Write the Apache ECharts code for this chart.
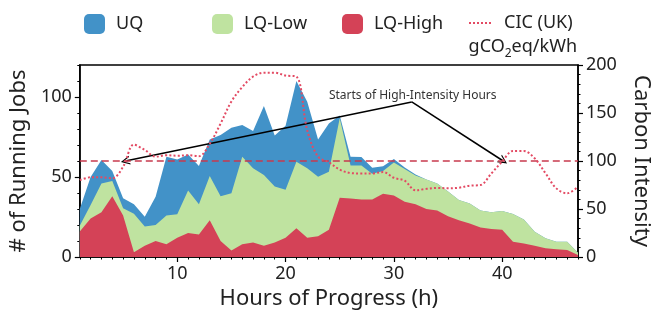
<!DOCTYPE html>
<html>
<head>
<meta charset="utf-8">
<script src="https://cdn.jsdelivr.net/npm/echarts@6/dist/echarts.min.js"></script>
<style>html,body{margin:0;padding:0;background:#fff}#c{width:665px;height:320px}</style>
</head>
<body>
<div id="c"></div>
<script>
// Hours of progress
var hours = [1,2,3,4,5,6,7,8,9,10,11,12,13,14,15,16,17,18,19,20,21,22,23,24,25,26,27,28,29,30,31,32,33,34,35,36,37,38,39,40,41,42,43,44,45,46,47];
// Running jobs (stacked): LQ-High at bottom, LQ-Low, UQ on top
var lqHigh = [16,24,28,38,26,3,7,10,8,12,15,14,23,10,4,8,9,7,9,12,18,12,13,17,37,36.5,36,36,39.5,38.5,34.6,33,30,29,25.5,23,21,18.5,17.5,17,9.6,8.5,7,5.4,4.8,4.4,1.3];
var lqLow  = [3.6,8.5,18,9.5,4.4,24,12,10,18,14.7,26.5,19,27.6,28,35.8,54.7,46.4,44.3,35,30,41.6,43.4,37.2,36.3,49.7,20.7,21.2,16,14.2,20.5,20.4,18,18.5,17,15.5,12.6,12.5,10.5,10.4,11.75,17.3,15,8.8,6.3,4.8,5.2,1.4];
var uq     = [10.4,17.5,14.6,6.3,6.3,6,6.2,17.7,36.7,34.3,22.5,23.9,22.9,38.3,41,19.8,23.4,43.1,32,40,50.4,41.6,23.3,30.2,1.8,5.5,5.3,3.8,3,2.3,1,0.5,0,0,0,0,0,0,0,0,0,0,0,0,0,0,0];
// Carbon intensity (gCO2eq/kWh)
var cic    = [80,83,83,82,94,117,111.5,104.5,106,105.5,106,105,118,139,162,177,188,192,192,189,188,132,104.5,98.6,91,87.5,87,87,88.5,82.5,79.5,69.5,71,72,71.5,72.2,74.3,75,87,99.5,110.4,110.4,102.8,87.2,71.5,66.3,73.3];
// Tick labels
var xMajor = [10,20,30,40];
var xMinor = [1,2,3,4,5,6,7,8,9,11,12,13,14,15,16,17,18,19,21,22,23,24,25,26,27,28,29,31,32,33,34,35,36,37,38,39,41,42,43,44,45,46,47];
var yLeftMajor = [0,50,100];
var yLeftMinor = [10,20,30,40,60,70,80,90,110,120];
var yRightMajor = [0,50,100,150,200];
var yRightMinor = [10,20,30,40,60,70,80,90,110,120,130,140,160,170,180,190];
// Annotation (data coordinates: hour, carbon intensity)
var threshold = 100;
var xRange = [1, 47];
var annotText = 'Starts of High-Intensity Hours';
var annotFrom = [31.65, 161.5];
var annotTextAt = [31.74, 168.5];
var annotTargets = [[5.2, 100], [40.1, 100]];

var FONT = 'Noto Sans';
var TXT = '#222';
// stacked tops (cumulative sums of the series below), painted back-to-front
function stackTop(arrs){ return hours.map(function(h,i){ var s=0; arrs.forEach(function(a){ s+=a[i]; }); return [h, s]; }); }

var C_UQ = '#4292c8', C_LOW = '#bfe3a0', C_HIGH = '#d44257', C_CIC = '#e34a63', C_TH = '#c83a4e';

var chart = echarts.init(document.getElementById('c'), null, {renderer:'canvas'});
var arrowSym = 'path://M0,10 L5,0 L10,10 L8.6,10 L5,2.8 L1.4,10 Z';
var dotIcon = 'path://M0,0h2v2h-2zM4,0h2v2h-2zM8,0h2v2h-2zM12,0h2v2h-2zM16,0h2v2h-2zM20,0h2v2h-2z';

function legendAt(name, left, opts){
  var o = {
    data:[name], left:left, top:9, itemWidth:21, itemHeight:20, itemGap:0,
    textStyle:{fontFamily:FONT, fontSize:18, color:TXT, padding:[0,0,0,6]},
    selectedMode:false
  };
  for (var k in opts) o[k] = opts[k];
  return o;
}

var option = {
  animation:false,
  backgroundColor:'#fff',
  textStyle:{fontFamily:FONT},
  legend:[
    legendAt('UQ', 79, {icon:'roundRect'}),
    legendAt('LQ-Low', 207, {icon:'roundRect'}),
    legendAt('LQ-High', 337, {icon:'roundRect'}),
    legendAt('CIC (UK)', 464, {icon:dotIcon, itemWidth:22, itemHeight:2, itemStyle:{color:C_CIC},
      textStyle:{fontFamily:FONT, fontSize:18, color:TXT, padding:[0,0,0,8]}})
  ],
  grid:{left:77, right:87, top:65, bottom:63, show:true, borderColor:'#000', borderWidth:1.5, backgroundColor:'transparent'},
  xAxis:[
    {type:'value', min:1, max:47, position:'bottom',
     axisLine:{show:true, lineStyle:{color:'#000', width:1.5}},
     axisTick:{show:true, customValues:xMajor, length:5, lineStyle:{color:'#000', width:1.2}},
     axisLabel:{show:true, customValues:xMajor, fontSize:18, color:TXT, margin:8, fontFamily:FONT},
     splitLine:{show:false},
     name:'Hours of Progress (h)', nameLocation:'middle', nameGap:30,
     nameTextStyle:{fontSize:22, color:TXT, fontFamily:FONT}},
    {type:'value', min:1, max:47, position:'bottom',
     axisLine:{show:false},
     axisTick:{show:true, customValues:xMinor, length:2.5, lineStyle:{color:'#000', width:1}},
     axisLabel:{show:false}, splitLine:{show:false}}
  ],
  yAxis:[
    {type:'value', min:0, max:120, position:'left',
     axisLine:{show:true, lineStyle:{color:'#000', width:1.5}},
     axisTick:{show:true, customValues:yLeftMajor, length:5, lineStyle:{color:'#000', width:1.2}},
     axisLabel:{show:true, customValues:yLeftMajor, fontSize:18, color:TXT, margin:8, fontFamily:FONT},
     splitLine:{show:false},
     name:'# of Running Jobs', nameLocation:'middle', nameGap:46, nameRotate:90,
     nameTextStyle:{fontSize:22, color:TXT, fontFamily:FONT}},
    {type:'value', min:0, max:120, position:'left',
     axisLine:{show:false},
     axisTick:{show:true, customValues:yLeftMinor, length:2.5, lineStyle:{color:'#000', width:1}},
     axisLabel:{show:false}, splitLine:{show:false}},
    {type:'value', min:0, max:200, position:'right',
     axisLine:{show:true, lineStyle:{color:'#000', width:1.5}},
     axisTick:{show:true, customValues:yRightMajor, length:5, lineStyle:{color:'#000', width:1.2}},
     axisLabel:{show:true, customValues:yRightMajor, fontSize:18, color:TXT, margin:8, fontFamily:FONT},
     splitLine:{show:false},
     name:'Carbon Intensity', nameLocation:'middle', nameGap:52, nameRotate:-90,
     nameTextStyle:{fontSize:22, color:TXT, fontFamily:FONT}},
    {type:'value', min:0, max:200, position:'right',
     axisLine:{show:false},
     axisTick:{show:true, customValues:yRightMinor, length:2.5, lineStyle:{color:'#000', width:1}},
     axisLabel:{show:false}, splitLine:{show:false}}
  ],
  graphic:[
    {type:'text', right:88, top:38, z:10,
     style:{text:'{a|gCO}{s|2}{a|eq/kWh}', fill:TXT,
       rich:{a:{fontSize:18, fontFamily:FONT, color:TXT, verticalAlign:'bottom'},
             s:{fontSize:12, fontFamily:FONT, color:TXT, verticalAlign:'bottom', padding:[0,0,-4,0]}}}}
  ],
  series:[
    {name:'UQ', type:'line', data:stackTop([lqHigh,lqLow,uq]), xAxisIndex:0, yAxisIndex:0,
     symbol:'none', showSymbol:false, lineStyle:{width:0}, itemStyle:{color:C_UQ},
     areaStyle:{color:C_UQ, opacity:1, origin:'start'}, z:2},
    {name:'LQ-Low', type:'line', data:stackTop([lqHigh,lqLow]), xAxisIndex:0, yAxisIndex:0,
     symbol:'none', showSymbol:false, lineStyle:{width:0}, itemStyle:{color:C_LOW},
     areaStyle:{color:C_LOW, opacity:1, origin:'start'}, z:3},
    {name:'LQ-High', type:'line', data:stackTop([lqHigh]), xAxisIndex:0, yAxisIndex:0,
     symbol:'none', showSymbol:false, lineStyle:{width:0}, itemStyle:{color:C_HIGH},
     areaStyle:{color:C_HIGH, opacity:1, origin:'start'}, z:4},
    {name:'threshold', type:'line', data:[[xRange[0], threshold],[xRange[1], threshold]],
     xAxisIndex:0, yAxisIndex:2, symbol:'none', showSymbol:false, silent:true, z:5,
     itemStyle:{color:C_TH}, lineStyle:{color:C_TH, width:1.4, type:[7,4]}},
    {name:'CIC (UK)', type:'line', data:hours.map(function(h,i){return [h, cic[i]];}), xAxisIndex:0, yAxisIndex:2,
     symbol:'none', showSymbol:false, smooth:0.35, z:6,
     itemStyle:{color:C_CIC},
     lineStyle:{color:C_CIC, width:2, type:[2,2.2]}},
    {name:'annotation', type:'line', data:[], xAxisIndex:0, yAxisIndex:2, z:7,
     markLine:{
       silent:true, animation:false, symbol:['none', arrowSym], symbolSize:[9,9],
       label:{show:false},
       lineStyle:{color:'#000', width:1.5, type:'solid'},
       data:[
         [{coord:annotFrom}, {coord:annotTargets[0]}],
         [{coord:annotFrom}, {coord:annotTargets[1]}]
       ]
     },
     markPoint:{
       silent:true, symbol:'circle', symbolSize:0,
       data:[{coord:annotTextAt, label:{show:true, position:'inside', formatter:annotText,
              fontSize:12, color:'#333', fontFamily:FONT}}]
     }}
  ]
};
chart.setOption(option);
</script>
</body>
</html>
